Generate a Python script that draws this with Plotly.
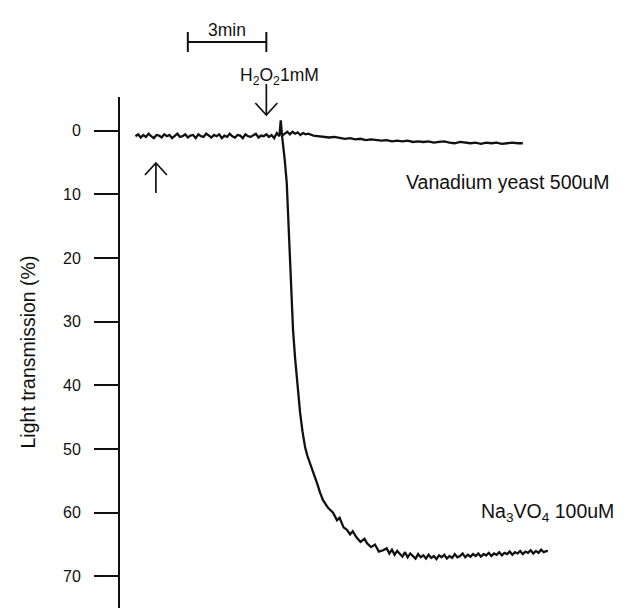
import plotly.graph_objects as go

# ---------------- data ----------------
# time in minutes, light transmission in %
t_base = [0.0, 0.1, 0.2, 0.3, 0.4, 0.5, 0.6, 0.7, 0.8, 0.9,
          1.0, 1.1, 1.2, 1.3, 1.4, 1.5, 1.6, 1.7, 1.8, 1.9,
          2.0, 2.1, 2.2, 2.3, 2.4, 2.5, 2.6, 2.7, 2.8, 2.9,
          3.0, 3.1, 3.2, 3.3, 3.4, 3.5, 3.6, 3.7, 3.8, 3.9,
          4.0, 4.1, 4.2, 4.3, 4.4, 4.5, 4.6, 4.7, 4.8, 4.9,
          5.0, 5.1, 5.2, 5.3, 5.4, 5.5, 5.55, 5.6]
v_base = [0.9, 0.6, 1.1, 0.7, 1.0, 0.5, 0.9, 1.2, 0.7, 0.8,
          1.1, 0.6, 0.9, 0.7, 1.2, 0.8, 0.5, 1.0, 0.9, 0.6,
          1.1, 0.8, 0.7, 1.2, 0.6, 0.9, 1.0, 0.5, 0.8, 1.1,
          0.7, 0.9, 0.6, 1.2, 0.8, 1.0, 0.5, 0.9, 1.1, 0.7,
          0.8, 1.2, 0.6, 0.9, 1.0, 0.7, 0.5, 1.1, 0.8, 0.9,
          0.6, 1.0, 0.7, 1.2, 0.4, 0.9, -1.6, 0.8]

t_vy = [5.6, 5.7, 5.8, 5.9, 6.0, 6.1, 6.2, 6.3, 6.4, 6.5, 6.6, 6.8,
        7.0, 7.2, 7.4, 7.6, 7.8, 8.0, 8.2, 8.4, 8.6, 8.8,
        9.0, 9.2, 9.4, 9.6, 9.8, 10.0, 10.2, 10.4, 10.6, 10.8,
        11.0, 11.2, 11.4, 11.6, 11.8, 12.0, 12.2, 12.4, 12.6, 12.8,
        13.0, 13.2, 13.4, 13.6, 13.8, 14.0, 14.2, 14.4, 14.6, 14.8]
v_vy = [0.8, 0.5, 0.2, 0.6, 0.2, 0.5, 0.3, 0.7, 0.4, 0.6, 0.5, 0.8,
        0.9, 1.0, 1.1, 1.0, 1.2, 1.3, 1.2, 1.4, 1.3, 1.5,
        1.4, 1.5, 1.6, 1.5, 1.7, 1.6, 1.7, 1.6, 1.8, 1.7,
        1.8, 1.7, 1.9, 1.8, 1.7, 1.9, 2.0, 1.8, 1.9, 2.0,
        1.9, 2.1, 1.9, 2.0, 1.9, 2.1, 2.0, 1.9, 2.0, 2.0]

t_na = [5.6, 5.64, 5.7, 5.78, 5.87, 5.97, 6.02, 6.1, 6.17, 6.23, 6.29,
        6.38, 6.48, 6.57, 6.67, 6.8, 6.94, 7.05, 7.16, 7.35, 7.55,
        7.7, 7.8, 7.95, 8.08, 8.2, 8.3, 8.45, 8.6, 8.75, 8.85, 9.0,
        9.15, 9.3, 9.46, 9.6, 9.7, 9.8, 9.9, 10.0, 10.1, 10.2, 10.3,
        10.4, 10.5, 10.6, 10.7, 10.8, 10.9, 11.0, 11.1, 11.2, 11.3,
        11.4, 11.5, 11.6, 11.7, 11.8, 11.9, 12.0, 12.1, 12.2, 12.3,
        12.4, 12.5, 12.6, 12.7, 12.8, 12.9, 13.0, 13.1, 13.2, 13.3,
        13.4, 13.5, 13.6, 13.7, 13.8, 13.9, 14.0, 14.1, 14.2, 14.3,
        14.4, 14.5, 14.6, 14.7, 14.8, 14.9, 15.0, 15.1, 15.2, 15.3,
        15.4, 15.5, 15.6, 15.7, 15.76]
v_na = [0.8, 2.0, 4.5, 8.2, 16.1, 26.6, 31.3, 35.8, 39.2, 42.0, 44.3,
        47.2, 49.7, 51.1, 52.2, 53.9, 55.4, 56.8, 58.0, 59.2, 60.0,
        61.2, 60.8, 62.3, 62.7, 63.4, 62.9, 63.9, 64.6, 64.1, 64.8, 65.4,
        65.0, 66.1, 65.9, 65.6, 66.4, 65.8, 66.6, 66.0, 66.5, 66.9, 66.2,
        67.0, 66.4, 66.8, 67.2, 66.5, 67.0, 66.7, 67.2, 66.6, 67.1,
        66.8, 67.3, 66.7, 67.0, 66.6, 67.2, 66.8, 67.1, 66.5, 67.0,
        66.8, 66.4, 67.0, 66.6, 66.9, 66.5, 66.8, 66.4, 66.9, 66.5,
        66.7, 66.3, 66.8, 66.4, 66.6, 66.2, 66.7, 66.3, 66.5, 66.1,
        66.6, 66.2, 66.4, 66.0, 66.5, 66.1, 66.3, 65.9, 66.4, 66.0,
        66.3, 65.8, 66.2, 66.0, 66.1]

y_ticks = [0, 10, 20, 30, 40, 50, 60, 70]
scale_bar_start = 2.0      # min
scale_bar_len = 3.0        # min
h2o2_time = 5.0            # min
start_time = 0.78          # min (upward arrow)

label_vy = "Vanadium yeast 500uM"
label_na = "Na<sub>3</sub>VO<sub>4</sub> 100uM"
label_h2o2 = "H<sub>2</sub>O<sub>2</sub>1mM"
label_bar = "3min"
y_title = "Light transmission (%)"

assert len(t_base) == len(v_base)
assert len(t_vy) == len(v_vy)
assert len(t_na) == len(v_na)

# ---------------- layout geometry ----------------
W, H = 627, 608
ML, MR, MT, MB = 120, 27, 97, 0
X_RANGE = [-0.592, 17.75]
Y_RANGE = [74.96, -5.26]
plot_w = W - ML - MR
plot_h = H - MT - MB
px_per_min = plot_w / (X_RANGE[1] - X_RANGE[0])


def py(p):
    """pixel row -> paper y"""
    return (H - MB - p) / plot_h


def dx(p):
    """pixel width -> minutes"""
    return p / px_per_min


FONT = "Liberation Sans, Arial, Helvetica, sans-serif"
INK = "#111111"

fig = go.Figure()
line_style = dict(color=INK, width=2.3)
fig.add_trace(go.Scatter(x=t_base, y=v_base, mode="lines", line=line_style,
                         showlegend=False, hoverinfo="skip"))
fig.add_trace(go.Scatter(x=t_vy, y=v_vy, mode="lines", line=line_style,
                         showlegend=False, name=label_vy))
fig.add_trace(go.Scatter(x=t_na, y=v_na, mode="lines", line=line_style,
                         showlegend=False, name="Na3VO4 100uM"))

shapes = []
lw = dict(color=INK, width=2)
# scale bar
b0, b1 = scale_bar_start, scale_bar_start + scale_bar_len
shapes.append(dict(type="line", xref="x", yref="paper", x0=b0, x1=b1,
                   y0=py(42), y1=py(42), line=lw))
for bx in (b0, b1):
    shapes.append(dict(type="line", xref="x", yref="paper", x0=bx, x1=bx,
                       y0=py(32), y1=py(52), line=lw))

# H2O2 down arrow
ax_ = h2o2_time
shapes.append(dict(type="line", xref="x", yref="paper", x0=ax_, x1=ax_,
                   y0=py(84), y1=py(115), line=dict(color=INK, width=1.7)))
shapes.append(dict(type="path", xref="x", yref="paper",
                   path=f"M {ax_ - dx(11)},{py(103)} L {ax_},{py(115)} L {ax_ + dx(11)},{py(103)}",
                   line=dict(color=INK, width=1.7)))

# start up arrow
ux = start_time
shapes.append(dict(type="line", xref="x", yref="paper", x0=ux, x1=ux,
                   y0=py(163), y1=py(193), line=dict(color=INK, width=1.7)))
shapes.append(dict(type="path", xref="x", yref="paper",
                   path=f"M {ux - dx(11)},{py(175)} L {ux},{py(163)} L {ux + dx(11)},{py(175)}",
                   line=dict(color=INK, width=1.7)))

annotations = [
    dict(text=label_bar, xref="x", yref="paper", x=b0 + scale_bar_len / 2, y=py(18),
         showarrow=False, font=dict(size=17.5, family=FONT, color=INK)),
    dict(text=label_h2o2, xref="x", yref="paper", x=ax_ + dx(13), y=py(63),
         showarrow=False, font=dict(size=17.5, family=FONT, color=INK)),
    dict(text=label_vy, xref="x", yref="y", x=t_vy[-1] - dx(15), y=8.1,
         showarrow=False, font=dict(size=19.5, family=FONT, color=INK)),
    dict(text=label_na, xref="x", yref="y", x=t_na[-1], y=60.0,
         showarrow=False, font=dict(size=19.5, family=FONT, color=INK)),
    dict(text=y_title, xref="paper", yref="paper", x=(27 - ML) / plot_w, y=0.5,
         textangle=-90, showarrow=False, xanchor="center", yanchor="middle",
         font=dict(size=19.5, family=FONT, color=INK)),
]

fig.update_layout(
    width=W, height=H,
    margin=dict(l=ML, r=MR, t=MT, b=MB, pad=0),
    paper_bgcolor="white", plot_bgcolor="white",
    shapes=shapes, annotations=annotations,
    xaxis=dict(visible=False, range=X_RANGE),
    yaxis=dict(range=Y_RANGE, showline=True, linecolor=INK, linewidth=2,
               ticks="outside", ticklen=24, tickwidth=2, tickcolor=INK,
               tickvals=y_ticks, ticktext=[str(v) for v in y_ticks],
               tickfont=dict(size=16, family=FONT, color=INK),
               ticklabelstandoff=10,
               showgrid=False, zeroline=False),
)

fig.write_html("out.html")
